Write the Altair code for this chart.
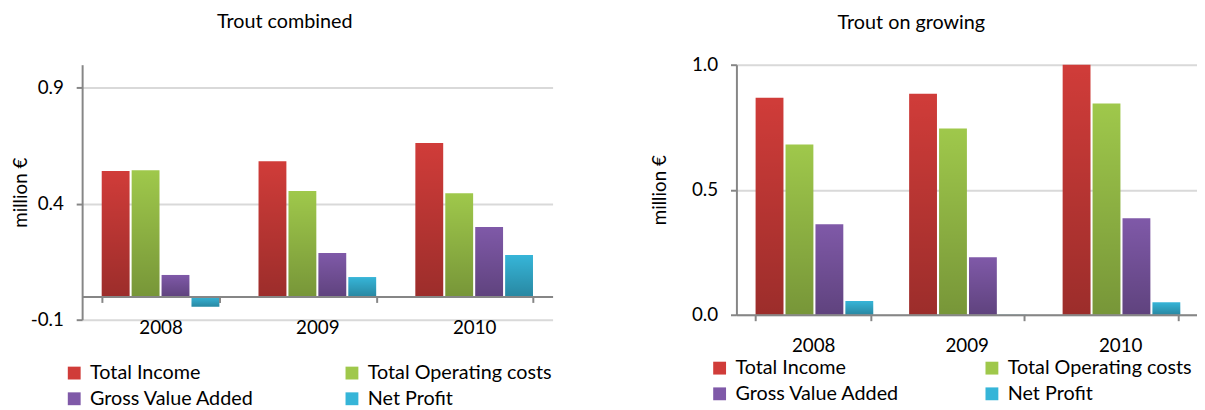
import altair as alt
import pandas as pd

years = ["2008", "2009", "2010"]
series = ["Total Income", "Total Operating costs", "Gross Value Added", "Net Profit"]
colors = ["#d03c39", "#9fc84b", "#7f59a8", "#36b5d8"]
# legend reads row by row: Income, Operating costs / Gross Value Added, Net Profit
legend_order = ["Total Income", "Gross Value Added", "Total Operating costs", "Net Profit"]
legend_colors = ["#d03c39", "#7f59a8", "#9fc84b", "#36b5d8"]

# Trout combined (million €)
comb_income = [0.541, 0.584, 0.662]
comb_opcost = [0.545, 0.455, 0.446]
comb_gva = [0.093, 0.188, 0.300]
comb_net = [-0.044, 0.084, 0.179]

# Trout on growing (million €)
grow_income = [0.868, 0.884, 1.0]
grow_opcost = [0.681, 0.745, 0.845]
grow_gva = [0.362, 0.230, 0.386]
grow_net = [0.055, -0.005, 0.050]

left_ticks = [-0.1, 0.4, 0.9]
right_ticks = [0.0, 0.5, 1.0]

FONT = "Lato"


def make_df(cols):
    rows = []
    for s, vals in zip(series, cols):
        for yr, v in zip(years, vals):
            rows.append({"year": yr, "series": s, "value": v})
    return pd.DataFrame(rows)


shade = {
    "gradient": "linear", "x1": 0, "y1": 0, "x2": 0, "y2": 1,
    "stops": [
        {"offset": 0, "color": "rgba(0,0,0,0)"},
        {"offset": 1, "color": "rgba(0,0,0,0.25)"},
    ],
}

label_expr = ("datum.value < 0 ? '-' + format(-datum.value, '.1f') "
              ": format(datum.value, '.1f')")


def panel(df, title, ydomain, yticks, width, height, xaxis_offset,
          legend_x, legend_y, title_dx, title_offset, title_padding, col_pad):
    x = alt.X(
        "year:N", sort=years, title=None,
        scale=alt.Scale(paddingInner=0.25, paddingOuter=0.125),
        axis=alt.Axis(
            tickBand="extent", offset=xaxis_offset, labelAngle=0,
            domainColor="#868686", domainWidth=2, tickColor="#868686",
            tickWidth=2, tickSize=6, labelPadding=16, zindex=1,
            labelFontSize=19, labelFont=FONT, labelColor="#000", grid=False,
        ),
    )
    xo = alt.XOffset("series:N", sort=series,
                     scale=alt.Scale(domain=series, paddingInner=0.07))
    y = alt.Y(
        "value:Q",
        scale=alt.Scale(domain=ydomain, nice=False, zero=False),
        axis=alt.Axis(
            values=yticks, labelExpr=label_expr, title="million €",
            titleFont=FONT, titleFontSize=19, titleFontWeight="normal",
            titleColor="#000", titlePadding=title_padding,
            labelFont=FONT, labelFontSize=19, labelColor="#000",
            labelPadding=13, tickSize=6, tickColor="#868686", tickWidth=2,
            domainColor="#868686", domainWidth=2,
            grid=True, gridColor="#d9d9d9", gridWidth=2,
        ),
    )
    base = alt.Chart(df).mark_bar().encode(
        x=x, xOffset=xo, y=y,
        color=alt.Color(
            "series:N",
            scale=alt.Scale(domain=legend_order, range=legend_colors),
            legend=alt.Legend(
                title=None, orient="none", legendX=legend_x, legendY=legend_y,
                columns=2, symbolType="square", symbolSize=169,
                symbolStrokeWidth=0, labelFont=FONT, labelFontSize=20,
                labelColor="#000", labelOffset=6, rowPadding=6,
                columnPadding=col_pad, labelLimit=400,
            ),
        ),
    )
    overlay = alt.Chart(df).mark_bar(fill=shade).encode(x=x, xOffset=xo, y=y)
    return alt.layer(base, overlay).properties(
        width=width, height=height,
        title=alt.Title(title, font=FONT, fontSize=20, fontWeight="normal",
                        color="#000", dx=title_dx, offset=title_offset),
    )


left = panel(make_df([comb_income, comb_opcost, comb_gva, comb_net]),
             "Trout combined", [-0.1, 1.0], left_ticks, 476, 258,
             -23.5, -18, 302, -33, 33, 0, 88)
right = panel(make_df([grow_income, grow_opcost, grow_gva, grow_net]),
              "Trout on growing", [0.0, 1.0], right_ticks, 466, 253,
              0, -27, 297, -56, 23, 22, 82.5)

chart = alt.hconcat(left, right, spacing=99).resolve_scale(
    color="independent"
).configure(
    padding={"top": 2, "left": 3, "right": 0, "bottom": 0}, font=FONT
).configure_view(stroke=None)

chart.save("out.html", embed_options={"renderer": "svg", "actions": False})
